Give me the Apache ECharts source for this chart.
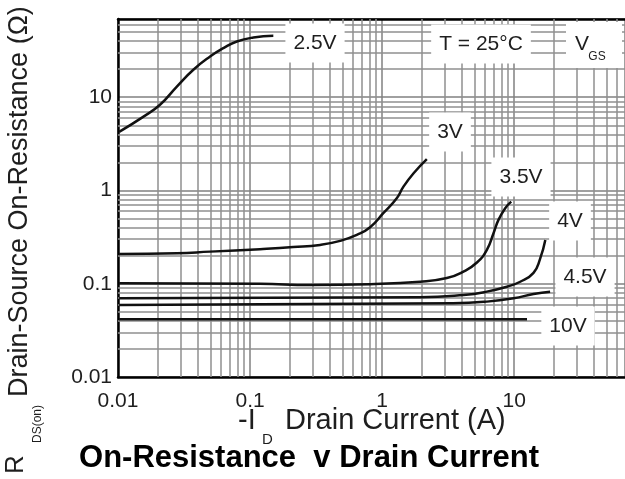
<!DOCTYPE html>
<html><head><meta charset="utf-8">
<script src="https://cdn.jsdelivr.net/npm/echarts@6/dist/echarts.min.js"></script>
<style>html,body{margin:0;padding:0;background:#fff}#c{width:625px;height:479px}</style>
</head><body><div id="c"></div>
<script>
// ---- data ----
const xTickLabels = ['0.01', '0.1', '1', '10'];
const yTickLabels = ['0.01', '0.1', '1', '10'];
const axisMin = 0.01;
const axisMax = 69;
const decades = [0.01, 0.1, 1, 10];
const minorMultipliers = [2, 3, 4, 5, 6, 7, 8, 9];

const id_2v5 = [0.0102, 0.0156, 0.0208, 0.0279, 0.0372, 0.0498, 0.0628, 0.0794, 0.106, 0.150];
const r_2v5  = [4.25, 6.2, 8.3, 13.0, 19.7, 27.3, 33.6, 39.6, 43.7, 45.6];

const id_3v = [0.0102, 0.0279, 0.0498, 0.119, 0.212, 0.339, 0.481, 0.643, 0.811, 1.02, 1.29, 1.45, 1.73, 2.18];
const r_3v  = [0.208, 0.212, 0.221, 0.235, 0.247, 0.261, 0.288, 0.334, 0.404, 0.571, 0.827, 1.10, 1.53, 2.17];

const id_3v5 = [0.0102, 0.119, 0.285, 0.811, 1.94, 3.09, 4.13, 5.22, 6.21, 6.97, 7.60, 8.55, 9.49];
const r_3v5  = [0.101, 0.100, 0.097, 0.099, 0.105, 0.115, 0.135, 0.169, 0.231, 0.348, 0.484, 0.646, 0.760];

const id_4v = [0.0102, 1.94, 4.13, 6.21, 8.81, 11.1, 14.0, 15.7, 17.2];
const r_4v  = [0.070, 0.0716, 0.0758, 0.0823, 0.093, 0.105, 0.131, 0.185, 0.295];

const id_4v5 = [0.0102, 3.45, 6.21, 9.88, 14.0, 18.7];
const r_4v5  = [0.0592, 0.0618, 0.0643, 0.0698, 0.0777, 0.0823];

const id_10v = [0.0102, 12.5];
const r_10v  = [0.0416, 0.0416];

const curveNames = ['2.5V', '3V', '3.5V', '4V', '4.5V', '10V'];
const curveX = [id_2v5, id_3v, id_3v5, id_4v, id_4v5, id_10v];
const curveY = [r_2v5, r_3v, r_3v5, r_4v, r_4v5, r_10v];

// ---- chart ----
const FONT = '"Liberation Sans", Arial, sans-serif';
const TXT = '#1e1e1e';
const chart = echarts.init(document.getElementById('c'), null, {renderer: 'canvas'});

const minorVals = [];
decades.forEach(d => minorMultipliers.forEach(m => { const v = +(d * m).toPrecision(3); if (v < axisMax) minorVals.push(v); }));
const gridMarks = minorVals.map(v => ({xAxis: v})).concat(minorVals.map(v => ({yAxis: v})));

function fmt(v) { return String(+(+v).toPrecision(3)); }

const series = [{
  type: 'line', xAxisIndex: 0, yAxisIndex: 0, data: [], silent: true, z: 1,
  markLine: {
    silent: true, symbol: ['none', 'none'], label: {show: false},
    lineStyle: {color: '#8f8f8f', width: 1.5, type: 'solid'},
    emphasis: {disabled: true},
    data: gridMarks
  }
}];
curveNames.forEach((n, i) => {
  series.push({
    name: n, type: 'line', xAxisIndex: 0, yAxisIndex: 0, z: 5,
    data: curveX[i].map((x, j) => [x, curveY[i][j]]),
    showSymbol: false, smooth: 0.5,
    lineStyle: {color: '#111', width: 2.5}
  });
});

const lab = (text, x, y) => ({
  type: 'text', x: x, y: y, z: 100,
  style: {text: text, fontSize: 21, fontFamily: FONT, fill: TXT, textAlign: 'center', textVerticalAlign: 'middle',
          backgroundColor: '#fff', padding: [9, 8, 9, 8]}
});

chart.setOption({
  animation: false,
  backgroundColor: '#fff',
  grid: {left: 118, right: 0, top: 19, bottom: 102, containLabel: false},
  xAxis: [{
    type: 'log', logBase: 10, min: axisMin, max: axisMax, position: 'bottom',
    axisLine: {show: true, onZero: false, lineStyle: {color: '#000', width: 2.5}},
    axisTick: {show: false},
    axisLabel: {show: true, margin: 14, fontSize: 21, fontFamily: FONT, color: TXT, showMaxLabel: false,
      formatter: v => { const s = fmt(v); return xTickLabels.includes(s) ? s : ''; }},
    splitLine: {show: true, lineStyle: {color: '#808080', width: 1.5}}
  }, {
    type: 'log', logBase: 10, min: axisMin, max: axisMax, position: 'top',
    axisLine: {show: true, onZero: false, lineStyle: {color: '#000', width: 2.5}},
    axisTick: {show: false}, axisLabel: {show: false}, splitLine: {show: false}
  }],
  yAxis: [{
    type: 'log', logBase: 10, min: axisMin, max: axisMax, position: 'left',
    axisLine: {show: true, onZero: false, lineStyle: {color: '#000', width: 2.5}},
    axisTick: {show: false},
    axisLabel: {show: true, margin: 6, fontSize: 21, fontFamily: FONT, color: TXT, showMaxLabel: false,
      formatter: v => { const s = fmt(v); return yTickLabels.includes(s) ? s : ''; }},
    splitLine: {show: true, lineStyle: {color: '#808080', width: 1.5}}
  }],
  series: series,
  graphic: [
    lab('2.5V', 315, 43),
    lab('T = 25°C', 481, 44),
    {type: 'rect', z: 99, shape: {x: 566, y: 22, width: 56, height: 46}, style: {fill: '#fff'}},
    {type: 'text', x: 582, y: 44, z: 100, style: {text: 'V', fontSize: 21, fontFamily: FONT, fill: TXT, textAlign: 'center', textVerticalAlign: 'middle'}},
    {type: 'text', x: 597, y: 57, z: 100, style: {text: 'GS', fontSize: 12, fontFamily: FONT, fill: TXT, textAlign: 'center', textVerticalAlign: 'middle'}},
    lab('3V', 450, 132),
    lab('3.5V', 521, 177),
    lab('4V', 570, 221),
    lab('4.5V', 585, 277),
    lab('10V', 568, 326),
    // x axis title
    {type: 'text', x: 238, y: 421, z: 100, style: {text: '-I', fontSize: 29, fontFamily: FONT, fill: TXT, textAlign: 'left', textVerticalAlign: 'middle'}},
    {type: 'text', x: 262, y: 440, z: 100, style: {text: 'D', fontSize: 15, fontFamily: FONT, fill: TXT, textAlign: 'left', textVerticalAlign: 'middle'}},
    {type: 'text', x: 285, y: 421, z: 100, style: {text: 'Drain Current (A)', fontSize: 29, fontFamily: FONT, fill: TXT, textAlign: 'left', textVerticalAlign: 'middle'}},
    // y axis title (rotated)
    {type: 'text', x: 20, y: 397, rotation: Math.PI / 2, z: 100, style: {text: 'Drain-Source On-Resistance (Ω)', fontSize: 27, fontFamily: FONT, fill: TXT, textAlign: 'left', textVerticalAlign: 'middle'}},
    {type: 'text', x: 16, y: 474, rotation: Math.PI / 2, z: 100, style: {text: 'R', fontSize: 26, fontFamily: FONT, fill: TXT, textAlign: 'left', textVerticalAlign: 'middle'}},
    {type: 'text', x: 38, y: 443, rotation: Math.PI / 2, z: 100, style: {text: 'DS(on)', fontSize: 12, fontFamily: FONT, fill: TXT, textAlign: 'left', textVerticalAlign: 'middle'}},
    // chart title
    {type: 'text', x: 309, y: 458, z: 100, style: {text: 'On-Resistance  v Drain Current', fontSize: 31, fontWeight: 'bold', fontFamily: FONT, fill: '#000', textAlign: 'center', textVerticalAlign: 'middle'}}
  ]
});
</script></body></html>
